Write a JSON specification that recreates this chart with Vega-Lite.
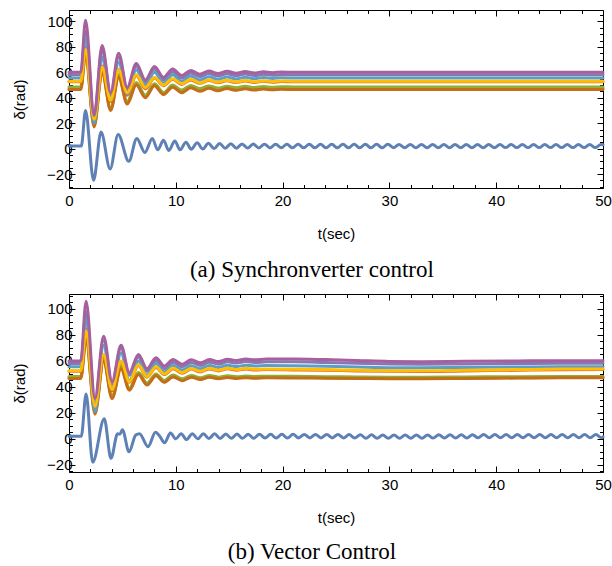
{
  "$schema": "https://vega.github.io/schema/vega-lite/v6.json",
  "background": "white",
  "padding": {"left": 12, "top": 8, "right": 0, "bottom": 0},
  "spacing": 6,
  "config": {
    "view": {"stroke": null},
    "axis": {"domainColor": "black", "tickColor": "black", "labelColor": "black", "titleColor": "black", "labelFont": "Liberation Sans", "titleFont": "Liberation Sans", "labelFontSize": 15, "titleFontSize": 15, "titleFontWeight": "normal", "grid": false, "labelOverlap": false, "labelFlush": false, "labelBound": false, "zindex": 1, "domainWidth": 1, "tickWidth": 1},
    "line": {"strokeWidth": 3, "interpolate": "monotone", "strokeJoin": "round", "strokeCap": "round"}
  },
  "datasets": {
    "topBlue": [
      {"t":0,"v":2},{"t":1.15,"v":2},{"t":1.55,"v":30},{"t":2.3,"v":-25},{"t":3.0,"v":13},{"t":3.85,"v":-16},{"t":4.6,"v":11},{"t":5.6,"v":-10},{"t":6.35,"v":8},{"t":7.1,"v":-3},{"t":7.8,"v":8},{"t":8.3,"v":-1},{"t":8.85,"v":6.5},{"t":9.35,"v":-1.5},{"t":9.9,"v":6},{"t":10.4,"v":-1},{"t":10.95,"v":5},{"t":11.45,"v":-0.5},{"t":12.0,"v":4.5},{"t":12.53,"v":-0.3},{"t":13.05,"v":4.2},{"t":13.58,"v":0},{"t":14.1,"v":4},{"t":14.63,"v":0.2},{"t":15.15,"v":3.8},{"t":15.68,"v":0.3},{"t":16.2,"v":3.7},{"t":16.73,"v":0.4},{"t":17.25,"v":3.6},{"t":17.78,"v":0.5},{"t":18.3,"v":3.5},{"t":18.83,"v":0.5},{"t":19.35,"v":3.5},{"t":19.88,"v":0.6},{"t":20.4,"v":3.4},{"t":20.93,"v":0.6},{"t":21.45,"v":3.4},{"t":21.98,"v":0.6},{"t":22.5,"v":3.4},{"t":23.03,"v":0.6},{"t":23.55,"v":3.4},{"t":24.08,"v":0.6},{"t":24.6,"v":3.4},{"t":25.13,"v":0.6},{"t":25.65,"v":3.4},{"t":26.18,"v":0.6},{"t":26.7,"v":3.4},{"t":27.23,"v":0.6},{"t":27.75,"v":3.4},{"t":28.28,"v":0.6},{"t":28.8,"v":3.4},{"t":29.33,"v":0.6},{"t":29.85,"v":3.4},{"t":30.38,"v":0.7},{"t":30.9,"v":3.3},{"t":31.43,"v":0.7},{"t":31.95,"v":3.3},{"t":32.48,"v":0.7},{"t":33.0,"v":3.3},{"t":33.53,"v":0.7},{"t":34.05,"v":3.3},{"t":34.58,"v":0.7},{"t":35.1,"v":3.3},{"t":35.63,"v":0.7},{"t":36.15,"v":3.3},{"t":36.68,"v":0.7},{"t":37.2,"v":3.3},{"t":37.73,"v":0.7},{"t":38.25,"v":3.3},{"t":38.78,"v":0.7},{"t":39.3,"v":3.3},{"t":39.83,"v":0.7},{"t":40.35,"v":3.2},{"t":40.88,"v":0.8},{"t":41.4,"v":3.2},{"t":41.93,"v":0.8},{"t":42.45,"v":3.2},{"t":42.98,"v":0.8},{"t":43.5,"v":3.2},{"t":44.03,"v":0.8},{"t":44.55,"v":3.2},{"t":45.08,"v":0.8},{"t":45.6,"v":3.2},{"t":46.13,"v":0.8},{"t":46.65,"v":3.2},{"t":47.18,"v":0.8},{"t":47.7,"v":3.2},{"t":48.23,"v":0.8},{"t":48.75,"v":3.2},{"t":49.28,"v":0.8},{"t":49.8,"v":3.2},{"t":50,"v":3.0}
    ],
    "topCluster": [
      {"t":0,"s2":47,"s3":48.5,"s4":52.5,"s5":58,"s6":46.5,"s7":55.5,"s8":53,"s9":60},
      {"t":1.1,"s2":47,"s3":48.5,"s4":52.5,"s5":58,"s6":46.5,"s7":55.5,"s8":53,"s9":60},
      {"t":1.55,"s2":75,"s3":76,"s4":80,"s5":92,"s6":74,"s7":88,"s8":78,"s9":101},
      {"t":2.35,"s2":18,"s3":19,"s4":21,"s5":24,"s6":17,"s7":20,"s8":23,"s9":26},
      {"t":3.1,"s2":61,"s3":62,"s4":65,"s5":78,"s6":60,"s7":72,"s8":64,"s9":81},
      {"t":3.9,"s2":31,"s3":32,"s4":37,"s5":42,"s6":30,"s7":38,"s8":38,"s9":44},
      {"t":4.65,"s2":57,"s3":58,"s4":62,"s5":72,"s6":56,"s7":68,"s8":62,"s9":75},
      {"t":5.45,"s2":36,"s3":37,"s4":42,"s5":46,"s6":35,"s7":43,"s8":44,"s9":48},
      {"t":6.3,"s2":51,"s3":52,"s4":57.5,"s5":65,"s6":50,"s7":62,"s8":58,"s9":67},
      {"t":7.15,"s2":41,"s3":42,"s4":47,"s5":52,"s6":40,"s7":49.5,"s8":48,"s9":54},
      {"t":8.0,"s2":50,"s3":51,"s4":55.5,"s5":62.5,"s6":49.5,"s7":60,"s8":56,"s9":64.5},
      {"t":8.85,"s2":43,"s3":44,"s4":49.5,"s5":54,"s6":42.5,"s7":51.5,"s8":50,"s9":56},
      {"t":9.7,"s2":48.8,"s3":50,"s4":54.5,"s5":60.5,"s6":48.3,"s7":58,"s8":55,"s9":62.5},
      {"t":10.55,"s2":44.5,"s3":46,"s4":50.5,"s5":55.5,"s6":44,"s7":53,"s8":51,"s9":57.5},
      {"t":11.4,"s2":48.3,"s3":49.6,"s4":54,"s5":59.5,"s6":47.8,"s7":57,"s8":54.5,"s9":61.5},
      {"t":12.25,"s2":45.6,"s3":47.2,"s4":51.3,"s5":56.5,"s6":45.1,"s7":54,"s8":51.8,"s9":58.5},
      {"t":13.1,"s2":47.9,"s3":49.3,"s4":53.5,"s5":59,"s6":47.4,"s7":56.5,"s8":54,"s9":61},
      {"t":13.95,"s2":46,"s3":47.6,"s4":51.8,"s5":57,"s6":45.5,"s7":54.5,"s8":52.2,"s9":59},
      {"t":14.8,"s2":47.7,"s3":49.1,"s4":53.3,"s5":58.8,"s6":47.2,"s7":56.3,"s8":53.8,"s9":60.8},
      {"t":15.65,"s2":46.3,"s3":47.8,"s4":51.9,"s5":57.3,"s6":45.8,"s7":54.8,"s8":52.3,"s9":59.3},
      {"t":16.5,"s2":47.5,"s3":49,"s4":53.1,"s5":58.6,"s6":47,"s7":56.1,"s8":53.6,"s9":60.6},
      {"t":17.35,"s2":46.5,"s3":48,"s4":52,"s5":57.5,"s6":46,"s7":55,"s8":52.5,"s9":59.5},
      {"t":18.2,"s2":47.3,"s3":48.8,"s4":52.9,"s5":58.4,"s6":46.8,"s7":55.9,"s8":53.4,"s9":60.4},
      {"t":19.05,"s2":46.7,"s3":48.2,"s4":52.2,"s5":57.7,"s6":46.2,"s7":55.2,"s8":52.7,"s9":59.7},
      {"t":19.9,"s2":47.1,"s3":48.6,"s4":52.7,"s5":58.2,"s6":46.6,"s7":55.7,"s8":53.2,"s9":60.2},
      {"t":21,"s2":47,"s3":48.5,"s4":52.5,"s5":58,"s6":46.5,"s7":55.5,"s8":53,"s9":60},
      {"t":50,"s2":47,"s3":48.5,"s4":52.5,"s5":58,"s6":46.5,"s7":55.5,"s8":53,"s9":60}
    ],
    "botBlue": [
      {"t":0,"v":2},{"t":1.15,"v":2},{"t":1.6,"v":34.5},{"t":2.22,"v":-18},{"t":3.3,"v":15.5},{"t":3.93,"v":-15},{"t":4.55,"v":4},{"t":4.75,"v":3.5},{"t":5.0,"v":7},{"t":5.62,"v":-10},{"t":6.25,"v":3},{"t":6.6,"v":4},{"t":7.4,"v":-6},{"t":8.1,"v":5},{"t":8.5,"v":2},{"t":8.95,"v":-3},{"t":9.5,"v":4.5},{"t":10.0,"v":0},{"t":10.5,"v":4},{"t":11.0,"v":-0.5},{"t":11.55,"v":4},{"t":12.05,"v":0},{"t":12.58,"v":4},{"t":13.1,"v":0.2},{"t":13.63,"v":3.9},{"t":14.15,"v":0.3},{"t":14.68,"v":3.8},{"t":15.2,"v":0.4},{"t":15.73,"v":3.7},{"t":16.25,"v":0.5},{"t":16.78,"v":3.6},{"t":17.3,"v":0.5},{"t":17.83,"v":3.6},{"t":18.35,"v":0.6},{"t":18.88,"v":3.5},{"t":19.4,"v":0.6},{"t":19.93,"v":3.5},{"t":20.45,"v":0.6},{"t":20.98,"v":3.5},{"t":21.5,"v":0.7},{"t":22.03,"v":3.4},{"t":22.55,"v":0.7},{"t":23.08,"v":3.4},{"t":23.6,"v":0.7},{"t":24.13,"v":3.4},{"t":24.65,"v":0.7},{"t":25.18,"v":3.4},{"t":25.7,"v":0.7},{"t":26.23,"v":3.3},{"t":26.75,"v":0.6},{"t":27.28,"v":3.2},{"t":27.8,"v":0.5},{"t":28.33,"v":3.1},{"t":28.85,"v":0.4},{"t":29.38,"v":3.0},{"t":29.9,"v":0.4},{"t":30.43,"v":3.0},{"t":30.95,"v":0.5},{"t":31.48,"v":3.0},{"t":32.0,"v":0.5},{"t":32.53,"v":3.0},{"t":33.05,"v":0.5},{"t":33.58,"v":3.0},{"t":34.1,"v":0.6},{"t":34.63,"v":3.1},{"t":35.15,"v":0.6},{"t":35.68,"v":3.1},{"t":36.2,"v":0.7},{"t":36.73,"v":3.2},{"t":37.25,"v":0.7},{"t":37.78,"v":3.2},{"t":38.3,"v":0.8},{"t":38.83,"v":3.3},{"t":39.35,"v":0.8},{"t":39.88,"v":3.3},{"t":40.4,"v":0.9},{"t":40.93,"v":3.3},{"t":41.45,"v":0.9},{"t":41.98,"v":3.3},{"t":42.5,"v":0.9},{"t":43.03,"v":3.3},{"t":43.55,"v":0.9},{"t":44.08,"v":3.3},{"t":44.6,"v":0.9},{"t":45.13,"v":3.3},{"t":45.65,"v":0.9},{"t":46.18,"v":3.3},{"t":46.7,"v":0.9},{"t":47.23,"v":3.3},{"t":47.75,"v":0.9},{"t":48.28,"v":3.3},{"t":48.8,"v":0.9},{"t":49.33,"v":3.3},{"t":49.85,"v":0.9},{"t":50,"v":1.5}
    ],
    "botCluster": [
      {"t":0,"s2":47,"s3":48,"s4":52,"s5":58,"s6":46.5,"s7":55.5,"s8":52.5,"s9":60},
      {"t":1.1,"s2":47,"s3":48,"s4":52,"s5":58,"s6":46.5,"s7":55.5,"s8":52.5,"s9":60},
      {"t":1.6,"s2":78,"s3":80,"s4":85,"s5":98,"s6":76,"s7":92,"s8":83,"s9":106},
      {"t":2.43,"s2":20,"s3":21,"s4":23,"s5":28,"s6":19,"s7":21,"s8":25,"s9":31},
      {"t":3.24,"s2":61,"s3":62,"s4":64,"s5":76,"s6":60,"s7":72,"s8":65,"s9":79},
      {"t":4.03,"s2":32,"s3":33,"s4":37,"s5":42,"s6":31,"s7":38,"s8":38,"s9":44},
      {"t":4.87,"s2":55,"s3":56,"s4":59.5,"s5":70,"s6":54,"s7":66,"s8":60,"s9":72},
      {"t":5.65,"s2":38,"s3":39,"s4":43.5,"s5":49,"s6":37.5,"s7":45,"s8":44,"s9":51},
      {"t":6.5,"s2":50,"s3":51,"s4":56.5,"s5":63,"s6":49.5,"s7":60,"s8":57,"s9":65},
      {"t":7.3,"s2":42,"s3":43,"s4":47.5,"s5":52,"s6":41.5,"s7":49,"s8":48,"s9":54},
      {"t":8.15,"s2":49,"s3":50,"s4":55,"s5":60.5,"s6":48.5,"s7":58,"s8":55.5,"s9":62.5},
      {"t":8.92,"s2":44,"s3":45,"s4":49.5,"s5":54,"s6":43.5,"s7":51.5,"s8":50,"s9":56},
      {"t":9.75,"s2":48.2,"s3":49.2,"s4":54,"s5":59,"s6":47.7,"s7":56.5,"s8":54.5,"s9":61},
      {"t":10.6,"s2":45.3,"s3":46.2,"s4":50.5,"s5":55.5,"s6":44.8,"s7":53,"s8":51,"s9":57.5},
      {"t":11.45,"s2":47.8,"s3":48.8,"s4":53.7,"s5":58.8,"s6":47.4,"s7":56.2,"s8":54.2,"s9":60.8},
      {"t":12.3,"s2":46.1,"s3":47,"s4":51.5,"s5":56.5,"s6":45.7,"s7":54,"s8":52,"s9":58.5},
      {"t":13.15,"s2":47.8,"s3":48.8,"s4":53.8,"s5":59,"s6":47.4,"s7":56.4,"s8":54.3,"s9":61},
      {"t":14.0,"s2":46.6,"s3":47.5,"s4":52.3,"s5":57.5,"s6":46.2,"s7":55,"s8":52.8,"s9":59.5},
      {"t":14.85,"s2":47.6,"s3":48.6,"s4":53.9,"s5":59.3,"s6":47.3,"s7":56.6,"s8":54.4,"s9":61.3},
      {"t":15.7,"s2":46.9,"s3":47.8,"s4":52.8,"s5":58.3,"s6":46.5,"s7":55.7,"s8":53.3,"s9":60.3},
      {"t":16.55,"s2":47.4,"s3":48.4,"s4":53.8,"s5":59.5,"s6":47.1,"s7":56.7,"s8":54.3,"s9":61.5},
      {"t":17.4,"s2":47.1,"s3":48,"s4":53,"s5":58.8,"s6":46.7,"s7":56.1,"s8":53.5,"s9":60.8},
      {"t":18.5,"s2":47.3,"s3":48.2,"s4":53.3,"s5":59.3,"s6":47,"s7":56.4,"s8":53.8,"s9":61.5},
      {"t":21,"s2":47.2,"s3":48.1,"s4":53.1,"s5":59.3,"s6":46.9,"s7":56.2,"s8":53.6,"s9":61.5},
      {"t":24,"s2":47,"s3":47.9,"s4":52.8,"s5":58.8,"s6":46.7,"s7":55.8,"s8":53.3,"s9":61},
      {"t":27,"s2":46.8,"s3":47.6,"s4":52.3,"s5":58.2,"s6":46.5,"s7":55.3,"s8":52.8,"s9":60.3},
      {"t":30,"s2":46.6,"s3":47.4,"s4":52,"s5":57.6,"s6":46.3,"s7":54.8,"s8":52.5,"s9":59.6},
      {"t":33,"s2":46.6,"s3":47.4,"s4":51.9,"s5":57.4,"s6":46.3,"s7":54.7,"s8":52.4,"s9":59.4},
      {"t":37,"s2":46.8,"s3":47.6,"s4":52.3,"s5":57.7,"s6":46.5,"s7":55,"s8":52.8,"s9":59.7},
      {"t":42,"s2":47,"s3":47.9,"s4":52.8,"s5":58,"s6":46.8,"s7":55.3,"s8":53.3,"s9":60},
      {"t":46,"s2":47.2,"s3":48,"s4":53.2,"s5":58.2,"s6":47,"s7":55.5,"s8":53.7,"s9":60.2},
      {"t":50,"s2":47.2,"s3":48,"s4":53.3,"s5":58.2,"s6":47,"s7":55.5,"s8":53.8,"s9":60.2}
    ]
  },
  "vconcat": [
    {
      "width": 534, "height": 178,
      "title": {"text": "(a) Synchronverter control", "orient": "bottom", "anchor": "middle", "frame": "bounds", "font": "Liberation Serif", "fontSize": 23, "fontWeight": "normal", "color": "black", "offset": 17},
      "layer": [
        {
          "data": {"name": "topBlue"},
          "mark": {"type": "line", "color": "#5E81B5"},
          "encoding": {
            "x": {"field": "t", "type": "quantitative", "scale": {"domain": [0, 50], "nice": false, "zero": false},
              "axis": {"orient": "bottom", "title": "t(sec)", "values": [0,2,4,6,8,10,12,14,16,18,20,22,24,26,28,30,32,34,36,38,40,42,44,46,48,50], "labelExpr": "datum.value % 10 === 0 ? datum.label : ''", "tickSize": {"condition": {"test": "datum.value % 10 === 0", "value": -6}, "value": -3.5}, "labelPadding": 11, "titlePadding": 16}},
            "y": {"field": "v", "type": "quantitative", "scale": {"domain": [-31, 109], "nice": false, "zero": false},
              "axis": {"orient": "left", "title": "δ(rad)", "values": [-30,-25,-20,-15,-10,-5,0,5,10,15,20,25,30,35,40,45,50,55,60,65,70,75,80,85,90,95,100,105], "labelExpr": "datum.value % 20 === 0 ? datum.label : ''", "tickSize": {"condition": {"test": "datum.value % 20 === 0", "value": -6}, "value": -3.5}, "labelPadding": 3, "titlePadding": 19}}
          }
        },
        {
          "data": {"name": "topCluster"},
          "transform": [{"fold": ["s2","s3","s4","s5","s6","s7","s8","s9"], "as": ["series", "v"]}],
          "mark": {"type": "line"},
          "encoding": {
            "x": {"field": "t", "type": "quantitative", "scale": {"domain": [0, 50], "nice": false, "zero": false},
              "axis": {"orient": "top", "title": null, "labels": false, "values": [0,2,4,6,8,10,12,14,16,18,20,22,24,26,28,30,32,34,36,38,40,42,44,46,48,50], "tickSize": {"condition": {"test": "datum.value % 10 === 0", "value": -6}, "value": -3.5}}},
            "y": {"field": "v", "type": "quantitative", "scale": {"domain": [-31, 109], "nice": false, "zero": false},
              "axis": {"orient": "right", "title": null, "labels": false, "values": [-30,-25,-20,-15,-10,-5,0,5,10,15,20,25,30,35,40,45,50,55,60,65,70,75,80,85,90,95,100,105], "tickSize": {"condition": {"test": "datum.value % 20 === 0", "value": -6}, "value": -3.5}}},
            "color": {"field": "series", "type": "nominal", "scale": {"domain": ["s2","s3","s4","s5","s6","s7","s8","s9"], "range": ["#E19C24","#8FB032","#EB6235","#8778B3","#C56E1A","#5D9EC7","#FFBF00","#A5609D"]}, "legend": null}
          }
        }
      ],
      "resolve": {"axis": {"x": "independent", "y": "independent"}}
    },
    {
      "width": 534, "height": 178,
      "title": {"text": "(b) Vector Control", "orient": "bottom", "anchor": "middle", "frame": "bounds", "font": "Liberation Serif", "fontSize": 23, "fontWeight": "normal", "color": "black", "offset": 15},
      "layer": [
        {
          "data": {"name": "botBlue"},
          "mark": {"type": "line", "color": "#5E81B5"},
          "encoding": {
            "x": {"field": "t", "type": "quantitative", "scale": {"domain": [0, 50], "nice": false, "zero": false},
              "axis": {"orient": "bottom", "title": "t(sec)", "values": [0,2,4,6,8,10,12,14,16,18,20,22,24,26,28,30,32,34,36,38,40,42,44,46,48,50], "labelExpr": "datum.value % 10 === 0 ? datum.label : ''", "tickSize": {"condition": {"test": "datum.value % 10 === 0", "value": -6}, "value": -3.5}, "labelPadding": 11, "titlePadding": 16}},
            "y": {"field": "v", "type": "quantitative", "scale": {"domain": [-25.5, 111.5], "nice": false, "zero": false},
              "axis": {"orient": "left", "title": "δ(rad)", "values": [-25,-20,-15,-10,-5,0,5,10,15,20,25,30,35,40,45,50,55,60,65,70,75,80,85,90,95,100,105,110], "labelExpr": "datum.value % 20 === 0 ? datum.label : ''", "tickSize": {"condition": {"test": "datum.value % 20 === 0", "value": -6}, "value": -3.5}, "labelPadding": 3, "titlePadding": 19}}
          }
        },
        {
          "data": {"name": "botCluster"},
          "transform": [{"fold": ["s2","s3","s4","s5","s6","s7","s8","s9"], "as": ["series", "v"]}],
          "mark": {"type": "line"},
          "encoding": {
            "x": {"field": "t", "type": "quantitative", "scale": {"domain": [0, 50], "nice": false, "zero": false},
              "axis": {"orient": "top", "title": null, "labels": false, "values": [0,2,4,6,8,10,12,14,16,18,20,22,24,26,28,30,32,34,36,38,40,42,44,46,48,50], "tickSize": {"condition": {"test": "datum.value % 10 === 0", "value": -6}, "value": -3.5}}},
            "y": {"field": "v", "type": "quantitative", "scale": {"domain": [-25.5, 111.5], "nice": false, "zero": false},
              "axis": {"orient": "right", "title": null, "labels": false, "values": [-25,-20,-15,-10,-5,0,5,10,15,20,25,30,35,40,45,50,55,60,65,70,75,80,85,90,95,100,105,110], "tickSize": {"condition": {"test": "datum.value % 20 === 0", "value": -6}, "value": -3.5}}},
            "color": {"field": "series", "type": "nominal", "scale": {"domain": ["s2","s3","s4","s5","s6","s7","s8","s9"], "range": ["#E19C24","#8FB032","#EB6235","#8778B3","#C56E1A","#5D9EC7","#FFBF00","#A5609D"]}, "legend": null}
          }
        }
      ],
      "resolve": {"axis": {"x": "independent", "y": "independent"}}
    }
  ]
}
